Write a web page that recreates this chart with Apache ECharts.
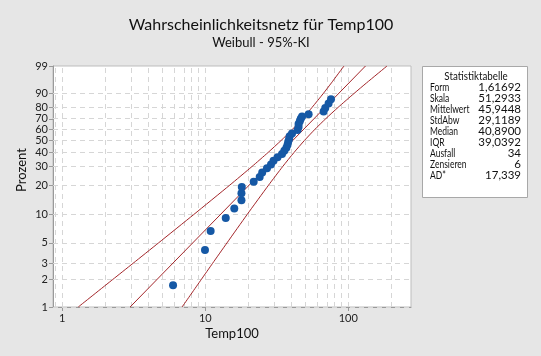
<!DOCTYPE html>
<html><head><meta charset="utf-8">
<script src="https://cdn.jsdelivr.net/npm/echarts@6/dist/echarts.min.js"></script>
<style>html,body{margin:0;padding:0;background:#e6e6e6}#c{width:541px;height:356px}</style>
</head><body><div id="c"></div><script>
// ---- data ----
const xTickLabels = [1, 10, 100];
const xGridValues = [0.9, 1, 2, 3, 4, 5, 6, 7, 8, 9, 10, 20, 30, 40, 50, 60, 70, 80, 90, 100, 200];
const yTickLabels = [1, 2, 3, 5, 10, 20, 30, 40, 50, 60, 70, 80, 90, 99];
const temp = [5.95, 9.95, 10.9, 13.9, 15.95, 17.9, 17.9, 18.0, 21.8, 24.0, 25.0,
  27.0, 28.8, 30.0, 32.0, 34.4, 35.7, 36.9, 37.6, 38.0, 38.5, 38.9, 40.4,
  44.2, 44.9, 44.9, 45.8, 46.5, 47.5, 52.8, 67.2, 69.0, 72.8, 75.7];
const percent = [1.73, 4.2, 6.7, 9.2, 11.6, 14.1, 16.6, 19.1, 21.5, 24.0, 26.5,
  29.0, 31.4, 33.9, 36.4, 38.9, 41.3, 43.8, 46.3, 48.8, 51.2, 53.7, 56.2,
  59.6, 62.4, 65.2, 67.6, 69.9, 72.0, 74.1, 76.4, 79.5, 83.1, 86.2];
const fitX = [2.98, 131.9];
const fitP = [1, 99];
const bandP = [1, 2, 3, 5, 10, 20, 30, 40, 50, 60, 70, 80, 90, 95, 99];
const upperX = [1.293, 2.251, 3.119, 4.71, 8.296, 14.85, 21.17, 27.48, 33.9, 40.55, 47.65, 55.85, 67.05, 76.2, 93.3];
const lowerX = [6.88, 9.369, 11.238, 14.18, 19.6, 27.72, 34.74, 41.73, 49.33, 58.26, 69.49, 84.89, 110.1, 134.1, 186.5];
const statLabels = ['Form', 'Skala', 'Mittelwert', 'StdAbw', 'Median', 'IQR', 'Ausfall', 'Zensieren', 'AD*'];
const statValues = ['1,61692', '51,2933', '45,9448', '29,1189', '40,8900', '39,0392', '34', '6', '17,339'];

// ---- transforms ----
const lx = v => Math.log10(v);
const wb = p => Math.log(-Math.log(1 - p / 100));
const inv = w => 100 * (1 - Math.exp(-Math.exp(w)));
const pts = (xs, ps) => xs.map((x, i) => [lx(x), wb(ps[i])]);

const FONT = 'Lato';
const chart = echarts.init(document.getElementById('c'));

const gridMarks = [
  ...xGridValues.map(v => ({ xAxis: lx(v) })),
  ...yTickLabels.map(p => ({ yAxis: wb(p) }))
];

const graphics = [
  { type: 'text', x: 261, y: 25, style: { text: 'Wahrscheinlichkeitsnetz für Temp100', fontFamily: FONT, fontSize: 16, fill: '#111', align: 'center', verticalAlign: 'middle' } },
  { type: 'text', x: 261, y: 43, style: { text: 'Weibull - 95%-KI', fontFamily: FONT, fontSize: 13, fill: '#111', align: 'center', verticalAlign: 'middle' } },
  { type: 'rect', shape: { x: 422.5, y: 66.5, width: 105, height: 131 }, style: { fill: '#fff', stroke: '#a8a8a8', lineWidth: 1 } },
  { type: 'text', x: 476, y: 76, scaleX: 0.85, style: { text: 'Statistiktabelle', fontFamily: FONT, fontSize: 11.5, fill: '#111', align: 'center', verticalAlign: 'middle' } }
];
statLabels.forEach((s, i) => {
  graphics.push({ type: 'text', x: 430, y: 87.7 + i * 11, scaleX: 0.74, style: { text: s, fontFamily: FONT, fontSize: 11.5, fill: '#111', align: 'left', verticalAlign: 'middle' } });
  graphics.push({ type: 'text', x: 521, y: 87.7 + i * 11, style: { text: statValues[i], fontFamily: FONT, fontSize: 11.5, fill: '#111', align: 'right', verticalAlign: 'middle' } });
});
graphics.push({ type: 'text', x: 22, y: 170, rotation: Math.PI / 2, style: { text: 'Prozent', fontFamily: FONT, fontSize: 13, fill: '#111', align: 'center', verticalAlign: 'middle' } });
graphics.push({ type: 'text', x: 232, y: 334, style: { text: 'Temp100', fontFamily: FONT, fontSize: 13, fill: '#111', align: 'center', verticalAlign: 'middle' } });

chart.setOption({
  backgroundColor: '#e6e6e6',
  animation: false,
  grid: { left: 53, right: 130, top: 66, bottom: 49, show: true, backgroundColor: '#fff', borderColor: '#bdbdbd', borderWidth: 1 },
  xAxis: {
    type: 'value', min: -0.065, max: 2.4385,
    axisLine: { show: true, onZero: false, lineStyle: { color: '#9a9a9a' } },
    axisTick: { show: true, length: 4, customValues: xTickLabels.map(lx), lineStyle: { color: '#9a9a9a' } },
    axisLabel: { customValues: xTickLabels.map(lx), formatter: v => String(Math.round(Math.pow(10, v))), color: '#222', fontFamily: FONT, fontSize: 11, margin: 6 },
    splitLine: { show: false }
  },
  yAxis: {
    type: 'value', min: wb(1), max: wb(99),
    axisLine: { show: true, onZero: false, lineStyle: { color: '#9a9a9a' } },
    axisTick: { show: true, length: 4, customValues: yTickLabels.map(wb), lineStyle: { color: '#9a9a9a' } },
    axisLabel: { customValues: yTickLabels.map(wb), formatter: v => String(Math.round(inv(v))), color: '#222', fontFamily: FONT, fontSize: 11, margin: 5 },
    splitLine: { show: false }
  },
  graphic: graphics,
  series: [
    { type: 'line', data: [], silent: true, z: 1,
      markLine: { silent: true, z: 1, symbol: 'none', label: { show: false }, animation: false,
        lineStyle: { color: '#d6d6d6', type: [5, 4], width: 1 }, data: gridMarks } },
    { type: 'line', data: pts(upperX, bandP), smooth: 0.2, showSymbol: false, lineStyle: { color: '#a3262a', width: 1 }, z: 8 },
    { type: 'line', data: pts(fitX, fitP), showSymbol: false, lineStyle: { color: '#a3262a', width: 1 }, z: 8 },
    { type: 'line', data: pts(lowerX, bandP), smooth: 0.2, showSymbol: false, lineStyle: { color: '#a3262a', width: 1 }, z: 8 },
    { type: 'scatter', data: pts(temp, percent), symbolSize: 8, itemStyle: { color: '#1558a5', opacity: 1 }, z: 10 }
  ]
});
</script></body></html>
